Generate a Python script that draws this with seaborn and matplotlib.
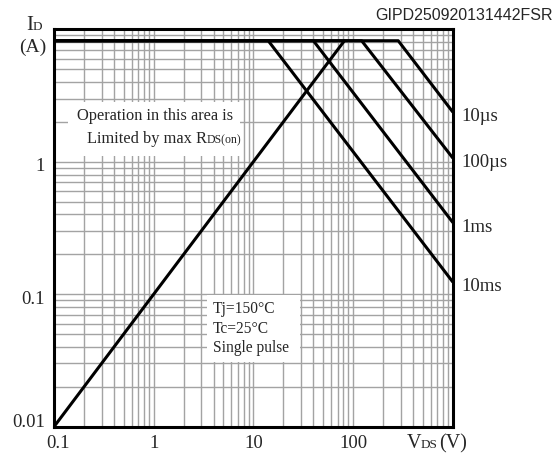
import numpy as np
import pandas as pd
import matplotlib
matplotlib.use("Agg")
import matplotlib.pyplot as plt
import seaborn as sns
from matplotlib.ticker import LogLocator, NullFormatter
from matplotlib.transforms import ScaledTranslation
from matplotlib.patches import Rectangle

# ---------------- data ----------------
rds_vds = [0.1, 82.0]
rds_id = [0.01, 8.2]

pulse_labels = ["10µs", "100µs", "1ms", "10ms"]
pulse_vds = [
    [0.1, 284.0, 1000.0],
    [0.1, 122.0, 1000.0],
    [0.1, 40.0, 1000.0],
    [0.1, 14.1, 1000.0],
]
pulse_id = [
    [8.2, 8.2, 2.38],
    [8.2, 8.2, 1.07],
    [8.2, 8.2, 0.349],
    [8.2, 8.2, 0.124],
]

x_ticks = [0.1, 1, 10, 100]
x_ticklabels = ["0.1", "1", "10", "100"]
y_ticks = [0.01, 0.1, 1]
y_ticklabels = ["0.01", "0.1", "1"]

code_text = "GIPD250920131442FSR"
note_line1 = "Operation in this area is"
note_line2 = "Limited by max R"
note_sub = "DS(on)"
cond_lines = ["Tj=150°C", "Tc=25°C", "Single pulse"]

# ---------------- style ----------------
sns.set_style("white")
plt.rcParams["font.family"] = ["Liberation Serif", "DejaVu Serif"]

W, H = 560, 457
fig = plt.figure(figsize=(W / 100, H / 100), dpi=100)
L, T, R, B = 54, 29.3, 452.7, 426.7
ax = fig.add_axes([L / W, 1 - B / H, (R - L) / W, (B - T) / H])


def fx(px):
    return px / W


def fy(py):
    return 1 - py / H


ax.set_xscale("log")
ax.set_yscale("log")

# curves
sns.lineplot(x=rds_vds, y=rds_id, ax=ax, color="black", lw=2.2,
             estimator=None, sort=False, zorder=3)
for lab, xs, ys in zip(pulse_labels, pulse_vds, pulse_id):
    sns.lineplot(x=xs, y=ys, ax=ax, color="black", lw=2.2,
                 estimator=None, sort=False, zorder=3)
    ax.annotate(lab, xy=(xs[-1], ys[-1]), xytext=(6.5, -3.5),
                textcoords="offset points", ha="left", va="center",
                fontsize=13.5, annotation_clip=False)

ax.set_xlim(0.1, 1000)
ax.set_ylim(0.01, 10)

ax.set_xticks(x_ticks)
ax.set_xticklabels(x_ticklabels)
ax.set_yticks(y_ticks)
ax.set_yticklabels(y_ticklabels)
ax.xaxis.set_minor_locator(LogLocator(base=10, subs=np.arange(2, 10)))
ax.yaxis.set_minor_locator(LogLocator(base=10, subs=np.arange(2, 10)))
ax.xaxis.set_minor_formatter(NullFormatter())
ax.yaxis.set_minor_formatter(NullFormatter())
ax.tick_params(which="both", length=0)
ax.tick_params(axis="x", labelsize=13.5, pad=6)
ax.tick_params(axis="y", labelsize=13.5, pad=6.5)
ax.grid(True, which="both", color="#a3a3a3", lw=1.0, zorder=0)
ax.set_axisbelow(True)
ax.set_xlabel("")
ax.set_ylabel("")

for s in ax.spines.values():
    s.set_color("black")
    s.set_linewidth(2.2)
    s.set_zorder(5)

# tick label fine offsets
for lbl in ax.get_yticklabels():
    if lbl.get_text() == "0.01":
        lbl.set_va("baseline")
    else:
        lbl.set_transform(lbl.get_transform() + ScaledTranslation(0, -3 / 100, fig.dpi_scale_trans))
for lbl in ax.get_xticklabels():
    if lbl.get_text() == "0.1":
        lbl.set_transform(lbl.get_transform() + ScaledTranslation(4 / 100, 0, fig.dpi_scale_trans))

# white boxes
ax.add_patch(Rectangle((fx(68), fy(156)), fx(240) - fx(68), fy(102) - fy(156),
                       transform=fig.transFigure, facecolor="white",
                       edgecolor="none", zorder=1.5))
ax.add_patch(Rectangle((fx(207), fy(362)), fx(300) - fx(207), fy(295) - fy(362),
                       transform=fig.transFigure, facecolor="white",
                       edgecolor="none", zorder=1.5))

# note text
fig.text(fx(155), fy(120), note_line1, ha="center", va="baseline", fontsize=11.8)
fig.text(fx(207), fy(143), note_line2, ha="right", va="baseline", fontsize=11.8)
fig.text(fx(207), fy(143), note_sub, ha="left", va="baseline", fontsize=8.5)

# conditions
for txt, py in zip(cond_lines, [313.3, 333.3, 352.5]):
    fig.text(fx(213), fy(py), txt, ha="left", va="baseline", fontsize=11.2)

# axis labels
fig.text(fx(33), fy(30), "I", ha="right", va="baseline", fontsize=15)
fig.text(fx(33), fy(30), "D", ha="left", va="baseline", fontsize=9.5)
fig.text(fx(33), fy(52), "(A)", ha="center", va="baseline", fontsize=14)

fig.text(fx(421), fy(448.3), "V", ha="right", va="baseline", fontsize=14.5)
fig.text(fx(421), fy(448.3), "DS", ha="left", va="baseline", fontsize=9.5)
fig.text(fx(439), fy(448.3), "(V)", ha="left", va="baseline", fontsize=14.5)

# code
fig.text(fx(553), fy(20), code_text, ha="right", va="baseline",
         fontsize=11.5, family="Liberation Sans")

fig.savefig("out.png", dpi=100)
